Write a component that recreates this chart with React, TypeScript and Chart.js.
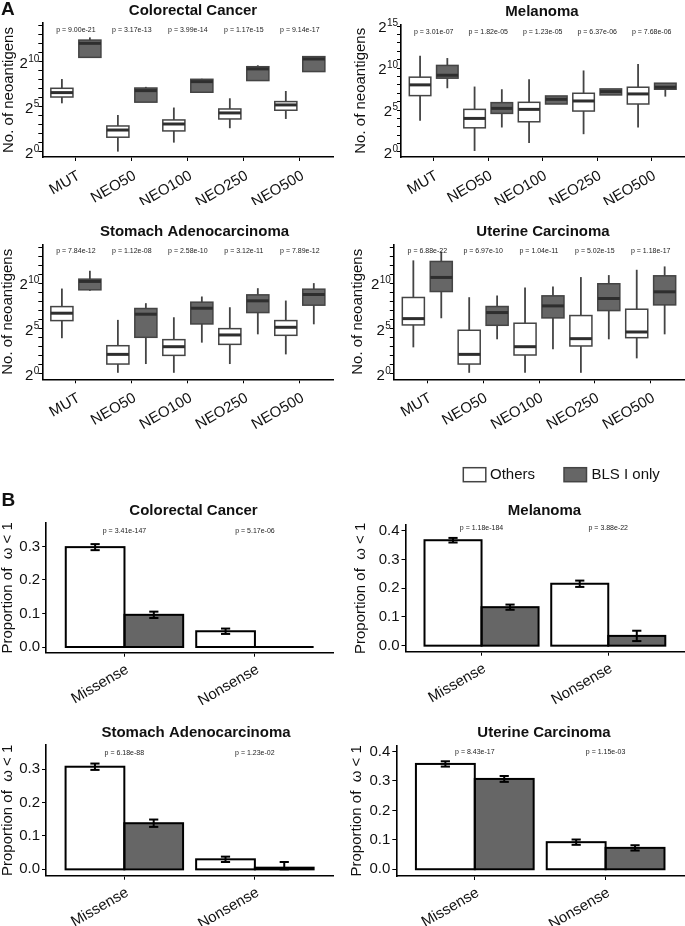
import React, { useEffect, useRef } from 'react';
import { Chart, registerables } from 'chart.js';

Chart.register(...registerables);
Chart.defaults.font.family = '"Liberation Sans", Arial, Helvetica, sans-serif';

// ---------------- DATA ----------------
const neoCategories = ['MUT', 'NEO50', 'NEO100', 'NEO250', 'NEO500'];
const mutationTypes = ['Missense', 'Nonsense'];
const seriesNames = ['Others', 'BLS I only'];

// Box stats in log2 units: [lower whisker, Q1, median, Q3, upper whisker]
const crcBoxOthers = [[5.37, 6.07, 6.56, 7.04, 8.07], [0.0, 1.6, 2.4, 2.85, 4.07], [1.0, 2.3, 3.07, 3.52, 4.9], [2.6, 3.63, 4.3, 4.74, 5.93], [3.63, 4.6, 5.19, 5.56, 6.74]];
const crcBoxBls = [[10.48, 10.48, 12.04, 12.4, 12.7], [5.5, 5.5, 6.78, 7.07, 7.2], [6.6, 6.6, 7.78, 8.04, 8.1], [7.9, 7.9, 9.2, 9.44, 9.6], [8.9, 8.9, 10.3, 10.56, 10.56]];
const crcBoxP = ['p = 9.00e-21', 'p = 3.17e-13', 'p = 3.99e-14', 'p = 1.17e-15', 'p = 9.14e-17'];

const melBoxOthers = [[3.72, 6.72, 8.0, 8.92, 11.48], [0.12, 2.88, 4.0, 5.08, 7.8], [1.08, 3.6, 5.08, 5.92, 8.68], [2.12, 4.88, 6.08, 7.0, 9.72], [2.92, 5.72, 6.92, 7.72, 10.48]];
const melBoxBls = [[7.6, 8.8, 9.15, 10.32, 11.2], [2.92, 4.6, 5.2, 5.88, 7.48], [5.72, 5.72, 6.28, 6.68, 6.68], [6.8, 6.8, 7.2, 7.52, 7.52], [6.6, 7.48, 7.72, 8.2, 8.2]];
const melBoxP = ['p = 3.01e-07', 'p = 1.82e-05', 'p = 1.23e-05', 'p = 6.37e-06', 'p = 7.68e-06'];

const stadBoxOthers = [[3.9, 5.85, 6.67, 7.4, 9.4], [0.07, 1.04, 2.11, 3.07, 5.93], [0.07, 2.0, 2.96, 3.74, 6.22], [1.04, 3.22, 4.26, 4.96, 7.33], [2.11, 4.22, 5.11, 5.85, 8.07]];
const stadBoxBls = [[9.15, 9.26, 10.19, 10.44, 11.37], [1.04, 4.0, 6.56, 7.19, 7.78], [3.41, 5.48, 7.22, 7.89, 8.52], [4.33, 6.74, 8.04, 8.7, 9.44], [5.44, 7.56, 8.74, 9.33, 10.0]];
const stadBoxP = ['p = 7.84e-12', 'p = 1.12e-08', 'p = 2.58e-10', 'p = 3.12e-11', 'p = 7.89e-12'];

const ucecBoxOthers = [[2.89, 5.37, 6.07, 8.41, 12.52], [0.07, 1.04, 2.11, 4.78, 8.44], [0.07, 2.04, 2.96, 5.56, 9.52], [0.07, 3.04, 3.85, 6.41, 10.67], [1.67, 3.96, 4.59, 7.11, 11.48]];
const ucecBoxBls = [[6.11, 9.07, 10.63, 12.4, 13.5], [3.78, 5.33, 6.74, 7.41, 8.63], [2.67, 6.15, 7.48, 8.59, 9.63], [3.78, 6.96, 8.3, 9.93, 10.89], [4.33, 7.59, 9.04, 10.81, 11.85]];
const ucecBoxP = ['p = 6.88e-22', 'p = 6.97e-10', 'p = 1.04e-11', 'p = 5.02e-15', 'p = 1.18e-17'];

// Proportion of omega < 1 with error half-widths
const crcPropOthers = [0.298, 0.047];
const crcErrOthers = [0.009, 0.008];
const crcPropBls = [0.096, 0.0];
const crcErrBls = [0.0095, 0.0];
const crcPropP = ['p = 3.41e-147', 'p = 5.17e-06'];

const melPropOthers = [0.367, 0.2155];
const melErrOthers = [0.008, 0.011];
const melPropBls = [0.134, 0.034];
const melErrBls = [0.009, 0.018];
const melPropP = ['p = 1.18e-184', 'p = 3.88e-22'];

const stadPropOthers = [0.307, 0.03];
const stadErrOthers = [0.0095, 0.008];
const stadPropBls = [0.138, 0.005];
const stadErrBls = [0.011, 0.017];
const stadPropP = ['p = 6.18e-88', 'p = 1.23e-02'];

const ucecPropOthers = [0.358, 0.092];
const ucecErrOthers = [0.009, 0.009];
const ucecPropBls = [0.307, 0.0726];
const ucecErrBls = [0.01, 0.009];
const ucecPropP = ['p = 8.43e-17', 'p = 1.15e-03'];

// ---------------- STYLE / LAYOUT ----------------
const FONT = '"Liberation Sans", Arial, Helvetica, sans-serif';
const TEXT = '#111';
const WHITE = '#ffffff';
const GRAY = '#666666';
const BOX_EDGE = '#444444';
const MEDIAN = '#2e2e2e';

type Spec = {
  id: string;
  kind: 'box' | 'bar';
  canvas: [number, number, number, number];
  plot: [number, number, number, number];
  yMin: number;
  yMax: number;
  title: string;
  titleX: number;
  titleY: number;
  yTitle: string;
  yTitleX: number;
  pY: number;
  pLabels: string[];
  others: any[];
  bls: any[];
  othersErr?: number[];
  blsErr?: number[];
  letter?: [string, number, number];
  legend?: boolean;
};

const specs: Spec[] = [
  { id: 'a-crc', kind: 'box', canvas: [0, 0, 340, 205], plot: [42.3, 333.4, 23, 157], yMin: -0.6, yMax: 14.3,
    title: 'Colorectal Cancer', titleX: 193, titleY: 11, yTitle: 'No. of neoantigens', yTitleX: 8.5, pY: 13.5,
    pLabels: crcBoxP, others: crcBoxOthers, bls: crcBoxBls, letter: ['A', 1, 15] },
  { id: 'a-mel', kind: 'box', canvas: [340, 0, 345, 205], plot: [401, 684.4, 24.5, 157], yMin: -0.6, yMax: 15.2,
    title: 'Melanoma', titleX: 542, titleY: 12, yTitle: 'No. of neoantigens', yTitleX: 361, pY: 14.25,
    pLabels: melBoxP, others: melBoxOthers, bls: melBoxBls },
  { id: 'a-stad', kind: 'box', canvas: [0, 215, 340, 230], plot: [42.3, 333.4, 244.3, 379.3], yMin: -0.65, yMax: 14.3,
    title: 'Stomach Adenocarcinoma', titleX: 194.5, titleY: 232.3, yTitle: 'No. of neoantigens', yTitleX: 7.5, pY: 13.6,
    pLabels: stadBoxP, others: stadBoxOthers, bls: stadBoxBls },
  { id: 'a-ucec', kind: 'box', canvas: [340, 215, 345, 230], plot: [393.8, 684.2, 244.3, 379.3], yMin: -0.65, yMax: 14.3,
    title: 'Uterine Carcinoma', titleX: 543, titleY: 232.3, yTitle: 'No. of neoantigens', yTitleX: 357.5, pY: 13.5,
    pLabels: ucecBoxP, others: ucecBoxOthers, bls: ucecBoxBls },
  { id: 'b-crc', kind: 'bar', canvas: [0, 480, 340, 225], plot: [46.2, 333.2, 523, 652.7], yMin: -0.017, yMax: 0.37,
    title: 'Colorectal Cancer', titleX: 193.5, titleY: 511, yTitle: 'Proportion of  \u03c9 < 1', yTitleX: 7, pY: 0.345,
    pLabels: crcPropP, others: crcPropOthers, bls: crcPropBls, othersErr: crcErrOthers, blsErr: crcErrBls, letter: ['B', 1.5, 506] },
  { id: 'b-mel', kind: 'bar', canvas: [340, 455, 345, 250], plot: [405.5, 684.3, 525, 651.7], yMin: -0.021, yMax: 0.42,
    title: 'Melanoma', titleX: 544.5, titleY: 511, yTitle: 'Proportion of  \u03c9 < 1', yTitleX: 361, pY: 0.408,
    pLabels: melPropP, others: melPropOthers, bls: melPropBls, othersErr: melErrOthers, blsErr: melErrBls, legend: true },
  { id: 'b-stad', kind: 'bar', canvas: [0, 715, 340, 211], plot: [46, 333.2, 745, 875.7], yMin: -0.019, yMax: 0.372,
    title: 'Stomach Adenocarcinoma', titleX: 196, titleY: 733.3, yTitle: 'Proportion of  \u03c9 < 1', yTitleX: 7, pY: 0.349,
    pLabels: stadPropP, others: stadPropOthers, bls: stadPropBls, othersErr: stadErrOthers, blsErr: stadErrBls },
  { id: 'b-ucec', kind: 'bar', canvas: [340, 715, 345, 211], plot: [396.3, 684.1, 745.7, 876], yMin: -0.023, yMax: 0.42,
    title: 'Uterine Carcinoma', titleX: 544, titleY: 733.3, yTitle: 'Proportion of  \u03c9 < 1', yTitleX: 357, pY: 0.398,
    pLabels: ucecPropP, others: ucecPropOthers, bls: ucecPropBls, othersErr: ucecErrOthers, blsErr: ucecErrBls },
];

function line(ctx: CanvasRenderingContext2D, x1: number, y1: number, x2: number, y2: number) {
  ctx.beginPath();
  ctx.moveTo(x1, y1);
  ctx.lineTo(x2, y2);
  ctx.stroke();
}

function makeOverlay(spec: Spec) {
  const [cl, ct] = spec.canvas;
  return {
    id: 'overlay_' + spec.id.replace('-', '_'),
    afterDatasetsDraw(chart: any) {
      const ctx: CanvasRenderingContext2D = chart.ctx;
      const ys = chart.scales.y;
      ctx.save();
      chart.data.datasets.forEach((ds: any, di: number) => {
        const meta = chart.getDatasetMeta(di);
        meta.data.forEach((el: any, i: number) => {
          const x = el.x;
          const w = el.width;
          const left = x - w / 2;
          if (spec.kind === 'box') {
            const s = ds.stats[i];
            const pLo = ys.getPixelForValue(s[0]);
            const pQ1 = ys.getPixelForValue(s[1]);
            const pMed = ys.getPixelForValue(s[2]);
            const pQ3 = ys.getPixelForValue(s[3]);
            const pHi = ys.getPixelForValue(s[4]);
            ctx.strokeStyle = BOX_EDGE;
            ctx.lineWidth = 1.8;
            if (pHi < pQ3 - 0.5) line(ctx, x, pQ3, x, pHi);
            if (pLo > pQ1 + 0.5) line(ctx, x, pQ1, x, pLo);
            ctx.lineWidth = 1.5;
            ctx.strokeRect(left, pQ3, w, pQ1 - pQ3);
            ctx.strokeStyle = MEDIAN;
            ctx.lineWidth = 3;
            line(ctx, left, pMed, left + w, pMed);
          } else {
            const v = ds.values[i];
            const e = ds.err[i];
            const pv = ys.getPixelForValue(v);
            const p0 = ys.getPixelForValue(0);
            ctx.strokeStyle = '#000';
            ctx.lineWidth = 2;
            ctx.strokeRect(left, Math.min(pv, p0), w, Math.abs(p0 - pv));
            if (e > 0) {
              const pHi = ys.getPixelForValue(v + e);
              const pLo = ys.getPixelForValue(Math.max(0, v - e));
              const cap = 4.6;
              line(ctx, x, pHi, x, pLo);
              line(ctx, x - cap, pHi, x + cap, pHi);
              line(ctx, x - cap, pLo, x + cap, pLo);
            }
          }
        });
      });
      ctx.restore();
    },
    afterDraw(chart: any) {
      const ctx: CanvasRenderingContext2D = chart.ctx;
      const xs = chart.scales.x;
      const ys = chart.scales.y;
      const ca = chart.chartArea;
      ctx.save();
      ctx.fillStyle = TEXT;
      // title
      ctx.font = `bold 15px ${FONT}`;
      ctx.textAlign = 'center';
      ctx.textBaseline = 'middle';
      ctx.fillText(spec.title, spec.titleX - cl, spec.titleY - ct);
      // p-values
      ctx.font = `7px ${FONT}`;
      ctx.fillStyle = '#222';
      spec.pLabels.forEach((p, i) => {
        ctx.fillText(p, xs.getPixelForValue(i + 1), ys.getPixelForValue(spec.pY));
      });
      ctx.fillStyle = TEXT;
      // superscript tick labels
      if (spec.kind === 'box') {
        ys.ticks.forEach((t: any) => {
          const v = Math.round(t.value);
          if (Math.abs(t.value - v) > 1e-6 || v % 5 !== 0) return;
          const py = ys.getPixelForValue(v);
          const xr = ca.left - 3;
          ctx.textAlign = 'right';
          ctx.textBaseline = 'alphabetic';
          ctx.font = `10px ${FONT}`;
          const exp = String(v);
          const ew = ctx.measureText(exp).width;
          ctx.fillText(exp, xr, py + 0.3);
          ctx.font = `15px ${FONT}`;
          ctx.fillText('2', xr - ew - 0.3, py + 6.3);
        });
      }
      // panel letter
      if (spec.letter) {
        ctx.font = `bold 19px ${FONT}`;
        ctx.textAlign = 'left';
        ctx.textBaseline = 'alphabetic';
        ctx.fillText(spec.letter[0], spec.letter[1] - cl, spec.letter[2] - ct);
      }
      // legend
      if (spec.legend) {
        const keys: [number, string, number][] = [[463.3, WHITE, 490], [564, GRAY, 591.5]];
        ctx.font = `15px ${FONT}`;
        ctx.textAlign = 'left';
        ctx.textBaseline = 'middle';
        keys.forEach(([kx, col, tx], i) => {
          ctx.fillStyle = col;
          ctx.fillRect(kx - cl, 467.7 - ct, 22.5, 14);
          ctx.strokeStyle = BOX_EDGE;
          ctx.lineWidth = 1.5;
          ctx.strokeRect(kx - cl, 467.7 - ct, 22.5, 14);
          ctx.fillStyle = TEXT;
          ctx.fillText(seriesNames[i], tx - cl, 475 - ct);
        });
      }
      ctx.restore();
    },
  };
}

function buildConfig(spec: Spec): any {
  const [cl, ct, cw, ch] = spec.canvas;
  const [pl, pr, pt, pb] = spec.plot;
  const isBox = spec.kind === 'box';
  const cats = isBox ? neoCategories : mutationTypes;
  const datasets = isBox
    ? [
        { label: seriesNames[0], data: spec.others.map((s: number[], i: number) => ({ x: i + 1, y: [s[1], s[3]] })), backgroundColor: WHITE, stats: spec.others },
        { label: seriesNames[1], data: spec.bls.map((s: number[], i: number) => ({ x: i + 1, y: [s[1], s[3]] })), backgroundColor: GRAY, stats: spec.bls },
      ]
    : [
        { label: seriesNames[0], data: spec.others.map((v: number, i: number) => ({ x: i + 1, y: v })), backgroundColor: WHITE, values: spec.others, err: spec.othersErr },
        { label: seriesNames[1], data: spec.bls.map((v: number, i: number) => ({ x: i + 1, y: v })), backgroundColor: GRAY, values: spec.bls, err: spec.blsErr },
      ];
  const grid = { display: true, drawOnChartArea: false, drawTicks: true, tickLength: 4, color: '#000', lineWidth: 1 };
  const border = { display: true, color: '#000', width: 1.6 };
  return {
    type: 'bar',
    data: { datasets },
    options: {
      animation: false,
      responsive: false,
      events: [],
      layout: { padding: { left: 0, top: pt - ct, right: cl + cw - pr, bottom: 0 } },
      datasets: { bar: { categoryPercentage: isBox ? 1 : 0.9, barPercentage: isBox ? 0.79 : 1, borderWidth: 0, grouped: true } },
      scales: {
        x: {
          type: 'linear',
          min: 0.4,
          max: cats.length + 0.6,
          offset: false,
          afterBuildTicks: (s: any) => { s.ticks = cats.map((_, i) => ({ value: i + 1 })); },
          afterFit: (s: any) => { s.height = ct + ch - pb; },
          ticks: {
            autoSkip: false,
            minRotation: 30,
            maxRotation: 30,
            padding: isBox ? 6 : 4,
            labelOffset: 3,
            color: TEXT,
            font: { size: 15 },
            callback: (v: number) => cats[Math.round(v) - 1] ?? '',
          },
          grid: { ...grid, offset: false },
          border,
        },
        y: {
          type: 'linear',
          min: spec.yMin,
          max: spec.yMax,
          afterFit: (s: any) => { s.width = pl - cl; },
          ticks: {
            stepSize: isBox ? 1 : 0.1,
            includeBounds: false,
            autoSkip: false,
            padding: 2,
            color: TEXT,
            font: { size: 15 },
            callback: isBox ? () => '' : (v: number) => v.toFixed(1),
          },
          title: {
            display: true,
            text: spec.yTitle,
            color: TEXT,
            font: { size: 15, lineHeight: 1.1 },
            padding: { top: Math.max(0, spec.yTitleX - cl - 8.25), bottom: 0 },
          },
          grid,
          border,
        },
      },
      plugins: { legend: { display: false }, tooltip: { enabled: false }, title: { display: false } },
    },
    plugins: [makeOverlay(spec)],
  };
}

function Panel({ spec }: { spec: Spec }) {
  const ref = useRef<HTMLCanvasElement>(null);
  useEffect(() => {
    const chart = new Chart(ref.current as HTMLCanvasElement, buildConfig(spec));
    return () => chart.destroy();
  }, [spec]);
  const [cl, ct, cw, ch] = spec.canvas;
  return (
    <canvas
      ref={ref}
      width={cw}
      height={ch}
      style={{ position: 'absolute', left: cl, top: ct, width: cw, height: ch }}
    />
  );
}

export default function App() {
  return (
    <div style={{ position: 'absolute', left: 0, top: 0, width: 685, height: 926, background: '#fff', overflow: 'hidden' }}>
      {specs.map((s) => (
        <Panel key={s.id} spec={s} />
      ))}
    </div>
  );
}
